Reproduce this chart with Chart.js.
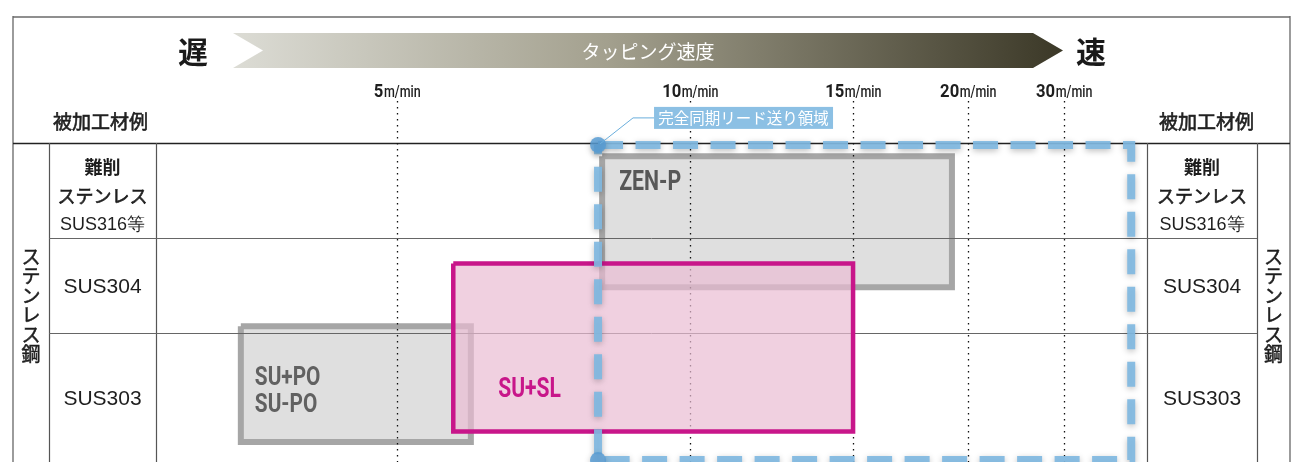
<!DOCTYPE html>
<html><head><meta charset="utf-8">
<script src="https://cdn.jsdelivr.net/npm/chart.js@4.4.1/dist/chart.umd.min.js"></script>
<style>html,body{margin:0;padding:0;background:#fff;overflow:hidden}canvas{display:block}</style>
</head><body>
<canvas id="c" width="1295" height="462"></canvas>
<script>
// ---- data ----
const speedTicks = [5, 10, 15, 20, 30];          // m/min
const tickUnit = 'm/min';
const speedMin = 0, speedMax = 40;
const materials = [['難削', 'ステンレス', 'SUS316等'], ['SUS304'], ['SUS303']];
const materialGroup = 'ステンレス鋼';
const columnTitle = '被加工材例';
const axisTitle = 'タッピング速度';
const slowLabel = '遅';
const fastLabel = '速';
const zoneLabel = '完全同期リード送り領域';
// ranges: speed [from, to] (m/min), rows [top, bottom] in material-row units
const zenPSpeed = [8.5, 19.3];  const zenPRows = [0.14, 1.52];
const suPoSpeed = [1.76, 6.26]; const suPoRows = [1.93, 3.15];
const suSlSpeed = [5.96, 15.0]; const suSlRows = [1.27, 3.04];
const syncSpeed = [8.43, 38.1]; const syncRows = [0.02, 3.34];

// ---- custom piecewise speed scale ----
class SegmentScale extends Chart.LinearScale {
  _dec(v) {
    const s = this.options.knots, d = this.options.stops;
    let i = 0;
    while (i < s.length - 2 && v > s[i + 1]) i++;
    return d[i] + (v - s[i]) / (s[i + 1] - s[i]) * (d[i + 1] - d[i]);
  }
  getPixelForValue(v) { return v == null ? NaN : this.getPixelForDecimal(this._dec(v)); }
  getValueForPixel(p) {
    const f = this.getDecimalForPixel(p), s = this.options.knots, d = this.options.stops;
    let i = 0;
    while (i < d.length - 2 && f > d[i + 1]) i++;
    return s[i] + (f - d[i]) / (d[i + 1] - d[i]) * (s[i + 1] - s[i]);
  }
}
SegmentScale.id = 'segment';
SegmentScale.defaults = {};
Chart.register(SegmentScale);

function rect(xr, yr) {
  return [{x: xr[0], y: yr[0]}, {x: xr[1], y: yr[0]}, {x: xr[1], y: yr[1]}, {x: xr[0], y: yr[1]}, {x: xr[0], y: yr[0]}];
}

const CJK = '"Noto Sans CJK JP", sans-serif';
const LAT = '"Liberation Sans", Arial, sans-serif';
const COND = 'Roboto, "Liberation Sans", sans-serif';

function condText(ctx, text, x, y, font, sx, align) {
  ctx.save();
  ctx.font = font;
  const w = ctx.measureText(text).width * sx;
  const x0 = align === 'center' ? x - w / 2 : x;
  ctx.translate(x0, y); ctx.scale(sx, 1);
  ctx.textAlign = 'left';
  ctx.fillText(text, 0, 0);
  ctx.restore();
  return w;
}
function medText(ctx, text, x, y, w) {
  ctx.save(); ctx.strokeStyle = ctx.fillStyle; ctx.lineWidth = w || 0.5;
  ctx.fillText(text, x, y); ctx.strokeText(text, x, y); ctx.restore();
}
function vText(ctx, text, cx, cy, step, font) {
  const chars = Array.from(text);
  ctx.save(); ctx.font = font; ctx.textAlign = 'center'; ctx.textBaseline = 'middle';
  chars.forEach((c, i) => medText(ctx, c, cx, cy + (i - (chars.length - 1) / 2) * step, 0.5));
  ctx.restore();
}
function line(ctx, x1, y1, x2, y2) { ctx.beginPath(); ctx.moveTo(x1, y1); ctx.lineTo(x2, y2); ctx.stroke(); }

function drawBackground(chart) {
  const ctx = chart.ctx, a = chart.chartArea, ys = chart.scales.y;
  const H = chart.height;
  const L0 = 13, L1 = a.left - 107, R1 = a.right + 110, R0 = 1290;
  ctx.save();
  // frame
  ctx.strokeStyle = '#8f8f8f'; ctx.lineWidth = 2;
  line(ctx, L0, 17, R0, 17);
  ctx.strokeStyle = '#666'; ctx.lineWidth = 1.3;
  line(ctx, L0, 16, L0, H); line(ctx, R0, 16, R0, H);
  // header rule
  ctx.strokeStyle = '#222'; ctx.lineWidth = 1.5;
  line(ctx, L0, a.top + 0.5, R0, a.top + 0.5);
  // column rules
  ctx.strokeStyle = '#555'; ctx.lineWidth = 1.2;
  [L1, a.left, a.right, R1].forEach(x => line(ctx, x + 0.5, a.top, x + 0.5, H));
  // row rules outside plot
  ctx.strokeStyle = '#666'; ctx.lineWidth = 1;
  for (let r = 1; r < materials.length; r++) {
    const py = Math.round(ys.getPixelForValue(r)) + 0.5;
    line(ctx, L1, py, a.left, py); line(ctx, a.right, py, R1, py);
  }
  // header arrow
  const top = 33, bot = 68, mid = (top + bot) / 2;
  const g = ctx.createLinearGradient(233, 0, 1063, 0);
  g.addColorStop(0, '#dcdcd5'); g.addColorStop(0.45, '#a3a08e'); g.addColorStop(1, '#3b3827');
  ctx.fillStyle = g;
  ctx.beginPath();
  ctx.moveTo(233, top); ctx.lineTo(1033, top); ctx.lineTo(1063, mid); ctx.lineTo(1033, bot);
  ctx.lineTo(233, bot); ctx.lineTo(263, mid); ctx.closePath(); ctx.fill();
  ctx.fillStyle = '#fff'; ctx.font = '19px ' + CJK; ctx.textAlign = 'center'; ctx.textBaseline = 'middle';
  ctx.fillText(axisTitle, 648, mid + 1);
  ctx.fillStyle = '#1a1a1a'; ctx.font = 'bold 30px ' + CJK;
  ctx.fillText(slowLabel, 193, mid + 1);
  ctx.fillText(fastLabel, 1091, mid + 1);
  // column titles
  ctx.font = '19px ' + CJK; ctx.fillStyle = '#222';
  medText(ctx, columnTitle, (L0 + a.left) / 2 + 16, 122, 0.6);
  medText(ctx, columnTitle, (a.right + R0) / 2 - 12, 122, 0.6);
  // tick labels
  const xs = chart.scales.x;
  speedTicks.forEach(v => {
    const px = xs.getPixelForValue(v);
    ctx.save(); ctx.font = 'bold 18.5px ' + COND; const w1 = ctx.measureText(String(v)).width * 0.9;
    ctx.font = '500 16px ' + COND; const w2 = ctx.measureText(tickUnit).width * 0.78; ctx.restore();
    const x0 = px - (w1 + w2) / 2;
    ctx.fillStyle = '#1e1e1e'; ctx.textBaseline = 'alphabetic';
    condText(ctx, String(v), x0, 97, 'bold 18.5px ' + COND, 0.9, 'left');
    condText(ctx, tickUnit, x0 + w1 + 0.5, 97, '500 16px ' + COND, 0.78, 'left');
  });
  // row labels
  ctx.fillStyle = '#1e1e1e'; ctx.textAlign = 'center'; ctx.textBaseline = 'middle';
  const ymax = ys.max;
  materials.forEach((lines, r) => {
    const end = r === materials.length - 1 ? ymax : r + 1;
    const c = ys.getPixelForValue((r + end) / 2);
    [(L1 + a.left) / 2, (a.right + R1) / 2].forEach(cx => {
      if (lines.length === 1) {
        ctx.font = '21px ' + LAT; ctx.fillText(lines[0], cx, c + 2);
      } else {
        ctx.font = 'bold 18px ' + CJK; ctx.fillText(lines[0], cx, c - 23);
        ctx.font = '18px ' + CJK; medText(ctx, lines[1], cx, c + 6, 0.6);
        ctx.font = '18px ' + LAT; ctx.fillText(lines[2], cx, c + 35);
      }
    });
  });
  // group label vertical
  ctx.fillStyle = '#1e1e1e';
  const gc = (a.top + a.bottom) / 2;
  vText(ctx, materialGroup, (L0 + L1) / 2, gc + 3, 19.5, '19px ' + CJK);
  vText(ctx, materialGroup, (R1 + R0) / 2, gc + 3, 19.5, '19px ' + CJK);
  ctx.restore();
}

function drawMidLayer(chart) {
  const ctx = chart.ctx, a = chart.chartArea, xs = chart.scales.x, ys = chart.scales.y;
  ctx.save();
  ctx.strokeStyle = '#666'; ctx.lineWidth = 1;
  for (let r = 1; r < materials.length; r++) {
    const py = Math.round(ys.getPixelForValue(r)) + 0.5;
    line(ctx, a.left, py, a.right, py);
  }
  ctx.strokeStyle = '#111'; ctx.lineWidth = 1.3; ctx.setLineDash([1.6, 4.4]);
  speedTicks.forEach(v => {
    const px = Math.round(xs.getPixelForValue(v)) + 0.5;
    line(ctx, px, 101, px, chart.height);
  });
  ctx.restore();
}

function drawForeground(chart) {
  const ctx = chart.ctx, xs = chart.scales.x, ys = chart.scales.y;
  ctx.save();
  ctx.textBaseline = 'alphabetic';
  const tl = (sp, rw) => [xs.getPixelForValue(sp[0]), ys.getPixelForValue(rw[0])];
  let [zx, zy] = tl(zenPSpeed, zenPRows);
  ctx.fillStyle = '#575757';
  condText(ctx, 'ZEN-P', zx + 17, zy + 34, 'bold 28px ' + COND, 0.76, 'left');
  let [px, py] = tl(suPoSpeed, suPoRows);
  ctx.fillStyle = '#616161';
  condText(ctx, 'SU+PO', px + 14, py + 59, 'bold 26px ' + COND, 0.8, 'left');
  condText(ctx, 'SU-PO', px + 14, py + 86, 'bold 26px ' + COND, 0.8, 'left');
  let [sx, sy] = tl(suSlSpeed, suSlRows);
  ctx.fillStyle = '#c8168a';
  condText(ctx, 'SU+SL', sx + 45, sy + 133, 'bold 27px ' + COND, 0.78, 'left');
  // sync zone label
  let [bx, by] = tl(syncSpeed, syncRows);
  ctx.strokeStyle = '#6aaedc'; ctx.lineWidth = 1;
  ctx.beginPath(); ctx.moveTo(bx + 2, by - 1); ctx.lineTo(bx + 35, by - 27); ctx.lineTo(bx + 56, by - 27); ctx.stroke();
  ctx.fillStyle = '#8cc0e4';
  ctx.fillRect(bx + 56, by - 38, 179, 22);
  ctx.fillStyle = '#fff'; ctx.font = '15.5px ' + CJK; ctx.textAlign = 'center'; ctx.textBaseline = 'middle';
  ctx.fillText(zoneLabel, bx + 56 + 89.5, by - 27);
  ctx.restore();
}

const layers = {
  id: 'layers',
  beforeDatasetsDraw(chart) { drawBackground(chart); },
  beforeDatasetDraw(chart, args) {
    if (chart.data.datasets[args.index].label === 'sync') {
      const ctx = chart.ctx; ctx.save();
      ctx.shadowColor = 'rgba(0,0,0,0.28)'; ctx.shadowBlur = 6; ctx.shadowOffsetY = 2;
    }
  },
  afterDatasetDraw(chart, args) {
    const lbl = chart.data.datasets[args.index].label;
    if (lbl === 'sync') chart.ctx.restore();
    if (lbl === 'ZEN-P') drawMidLayer(chart);
  },
  afterDatasetsDraw(chart) { drawForeground(chart); }
};

new Chart(document.getElementById('c'), {
  type: 'scatter',
  data: {
    datasets: [
      { label: 'sync', data: rect(syncSpeed, syncRows), showLine: true, fill: false, order: 0, clip: false,
        borderColor: 'rgba(128,184,225,0.92)', borderWidth: 8, borderDash: [25, 12.5], borderCapStyle: 'butt',
        pointRadius: [8, 0, 0, 8, 0], pointBackgroundColor: 'rgba(88,156,212,0.85)', pointBorderWidth: 0, tension: 0 },
      { label: 'SU+SL', data: rect(suSlSpeed, suSlRows), showLine: true, fill: 'shape', order: 1, clip: false,
        borderColor: '#c8168a', borderWidth: 4.5, backgroundColor: 'rgba(234,188,211,0.7)', pointRadius: 0, tension: 0,
        borderJoinStyle: 'miter' },
      { label: 'ZEN-P', data: rect(zenPSpeed, zenPRows), showLine: true, fill: 'shape', order: 2, clip: false,
        borderColor: '#a6a6a6', borderWidth: 6, backgroundColor: '#dfdfdf', pointRadius: 0, tension: 0,
        borderJoinStyle: 'miter' },
      { label: 'SU+PO', data: rect(suPoSpeed, suPoRows), showLine: true, fill: 'shape', order: 3, clip: false,
        borderColor: '#a6a6a6', borderWidth: 6, backgroundColor: '#dfdfdf', pointRadius: 0, tension: 0,
        borderJoinStyle: 'miter' }
    ]
  },
  options: {
    responsive: false, animation: false, events: [],
    layout: { autoPadding: false, padding: { left: 156, right: 148, top: 143, bottom: 0 } },
    plugins: { legend: { display: false }, tooltip: { enabled: false } },
    scales: {
      x: { type: 'segment', min: speedMin, max: speedMax, display: false,
           knots: [speedMin, ...speedTicks, speedMax],
           stops: [0, 0.2432, 0.5389, 0.7034, 0.8194, 0.9162, 1] },
      y: { type: 'linear', reverse: true, min: 0, max: 3.36, display: false }
    }
  },
  plugins: [layers]
});
</script>
</body></html>
